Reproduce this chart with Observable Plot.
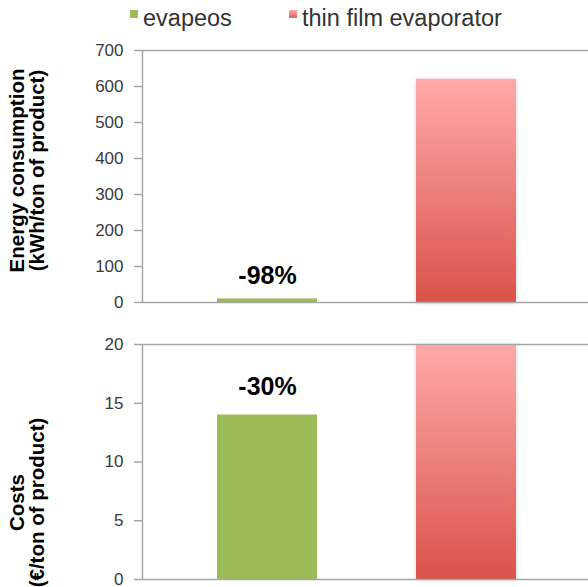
<!DOCTYPE html>
<html><head><meta charset="utf-8">
<script src="https://cdn.jsdelivr.net/npm/d3@7"></script>
<script src="https://cdn.jsdelivr.net/npm/@observablehq/plot@0.6"></script>
<style>
html,body{margin:0;padding:0;background:#fff;overflow:hidden;}
#root{position:relative;width:588px;height:587px;overflow:hidden;font-family:"Liberation Sans",Arial,Helvetica,sans-serif;}
.lg-text{position:absolute;font-size:23.5px;color:#333;line-height:1;white-space:nowrap;}
.lg-sw{position:absolute;width:8px;height:8px;}
#root svg.plotsvg{position:absolute;left:0;max-width:none !important;}
</style></head><body>
<svg width="0" height="0" style="position:absolute"><defs>
<linearGradient id="redgrad" x1="0" y1="0" x2="0" y2="1"><stop offset="0" stop-color="#ffaaaa"/><stop offset="1" stop-color="#d9534a"/></linearGradient>
<filter id="shadow" x="-20%" y="-20%" width="140%" height="140%"><feDropShadow dx="0" dy="1" stdDeviation="2" flood-color="#000" flood-opacity="0.18"/></filter>
</defs></svg>
<div id="root"></div>
<script>
const categories = ["evapeos", "thin film evaporator"];
const energyValues = [10, 620];
const costValues = [14, 20];
const energyTicks = [0, 100, 200, 300, 400, 500, 600, 700];
const costTicks = [0, 5, 10, 15, 20];
const energyLabel = "-98%";
const costLabel = "-30%";
const energyTitle = "Energy consumption\n(kWh/ton of product)";
const costTitle = "Costs\n(€/ton of product)";
const colors = ["#9bbb59", "url(#redgrad)"];
const swatchColors = ["#9bbb59", "linear-gradient(#ffaaaa, #e0605a)"];

const FONT = '"Liberation Sans", Arial, Helvetica, sans-serif';
const root = document.getElementById("root");

// legend
const legendPos = [{sw: 130, tx: 143}, {sw: 289, tx: 302}];
categories.forEach((c, i) => {
  const sw = document.createElement("div");
  sw.className = "lg-sw";
  sw.style.left = legendPos[i].sw + "px";
  sw.style.top = "10px";
  sw.style.background = swatchColors[i];
  root.appendChild(sw);
  const t = document.createElement("div");
  t.className = "lg-text";
  t.style.left = legendPos[i].tx + "px";
  t.style.top = "7px";
  t.textContent = c;
  root.appendChild(t);
});

function panel({values, ticks, title, label, height, marginTop, marginBottom, labelDy, titleDy, top}) {
  const data = categories.map((c, i) => ({category: c, value: values[i], fill: colors[i]}));
  const svg = Plot.plot({
    width: 592, height, marginLeft: 142, marginRight: 2, marginTop, marginBottom,
    style: {fontFamily: FONT, fontSize: "17px", color: "#404040", background: "transparent", overflow: "visible", maxWidth: "none"},
    x: {domain: categories, paddingInner: 0.5, paddingOuter: 0.375, axis: null},
    y: {domain: [0, d3.max(ticks)], axis: null},
    color: {type: "identity"},
    marks: [
      Plot.barY(data, {x: "category", y: "value", fill: "fill"}),
      Plot.frame({stroke: "#a6a6a6", strokeWidth: 1.5}),
      Plot.axisY({ticks, tickSize: 8, tickPadding: 11, stroke: "#a6a6a6", strokeWidth: 1.5, fill: "#3a3a3a", fontSize: 17, label: null, tickFormat: d => String(d)}),
      Plot.text([{category: categories[0], value: values[0], text: label}], {
        x: "category", y: "value", text: "text", dy: labelDy, lineAnchor: "bottom",
        fontWeight: "bold", fontSize: 25, fill: "#000"
      }),
      Plot.text([title], {
        frameAnchor: "left", rotate: -90, dx: -115, dy: titleDy, textAnchor: "middle", lineAnchor: "middle",
        fontWeight: "bold", fontSize: 20.5, lineHeight: 1.0, fill: "#000"
      })
    ]
  });
  svg.classList.add("plotsvg");
  svg.style.top = top + "px";
  svg.style.maxWidth = "none";
  svg.querySelectorAll("rect").forEach(r => {
    const f = r.getAttribute("fill") || "";
    if (f.includes("url")) r.setAttribute("filter", "url(#shadow)");
  });
  root.appendChild(svg);
}

panel({values: energyValues, ticks: energyTicks, title: energyTitle, label: energyLabel,
  height: 320, marginTop: 50, marginBottom: 18, labelDy: -15, titleDy: -6, top: 0});
panel({values: costValues, ticks: costTicks, title: costTitle, label: costLabel,
  height: 267, marginTop: 24, marginBottom: 8, labelDy: -20, titleDy: 40.5, top: 320});
</script>
</body></html>
